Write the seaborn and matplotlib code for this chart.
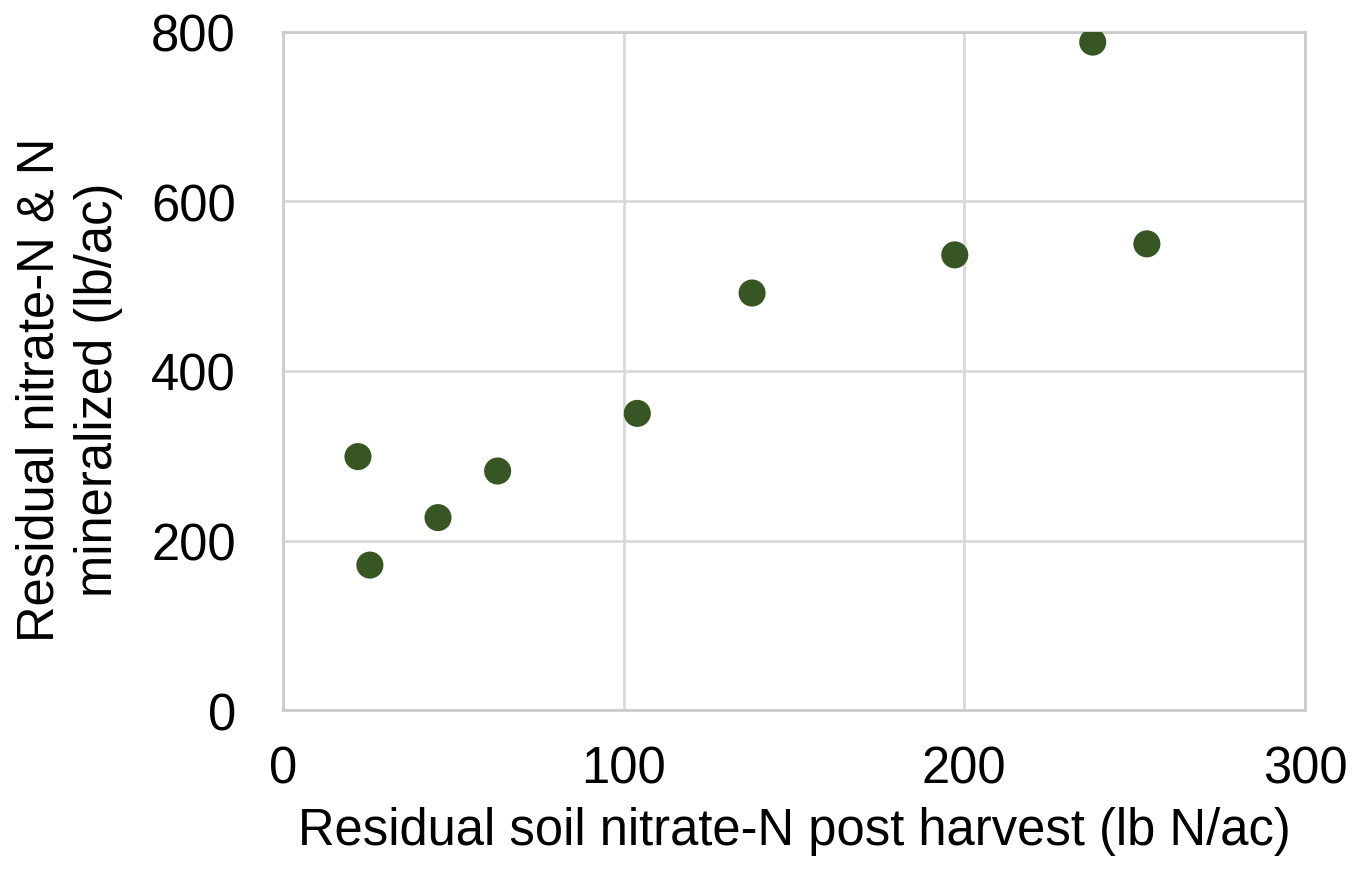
import matplotlib
matplotlib.use("Agg")
import matplotlib.pyplot as plt
import seaborn as sns
import pandas as pd

residual_soil_n = [22, 25.5, 45.5, 63, 104, 137.7, 197.2, 237.7, 253.6]
residual_mineralized = [299, 171, 227, 282, 350, 492, 537, 788, 550]
x_ticks = [0, 100, 200, 300]
y_ticks = [0, 200, 400, 600, 800]

df = pd.DataFrame({"x": residual_soil_n, "y": residual_mineralized})

sns.set_theme(style="white")
plt.rcParams['font.family'] = ['Liberation Sans', 'DejaVu Sans']

fig = plt.figure(figsize=(13.64, 8.79), dpi=100)
ax = fig.add_axes([0.2075, 0.1911, 0.7492, 0.7714])
sns.scatterplot(data=df, x="x", y="y", ax=ax, color="#375623", s=380,
                edgecolor="none", zorder=3)
ax.set_xlim(0, 300)
ax.set_ylim(0, 800)
ax.set_xticks(x_ticks)
ax.set_yticks(y_ticks)
ax.grid(True, color="#d9d9d9", linewidth=2.0)
for sp in ax.spines.values():
    sp.set_color("#cccccc")
    sp.set_linewidth(2.0)
ax.tick_params(axis="x", labelsize=36.5, colors="black", length=0, pad=25)
ax.tick_params(axis="y", labelsize=36.5, colors="black", length=0, pad=34)
ax.set_xlabel("Residual soil nitrate-N post harvest (lb N/ac)", fontsize=36.5,
              labelpad=9, color="black")
ax.set_ylabel("Residual nitrate-N & N\nmineralized (lb/ac)", fontsize=36.5,
              labelpad=20, linespacing=1.25, color="black")
ax.yaxis.label.set_y(0.473)
fig.savefig("out.png", dpi=100)
